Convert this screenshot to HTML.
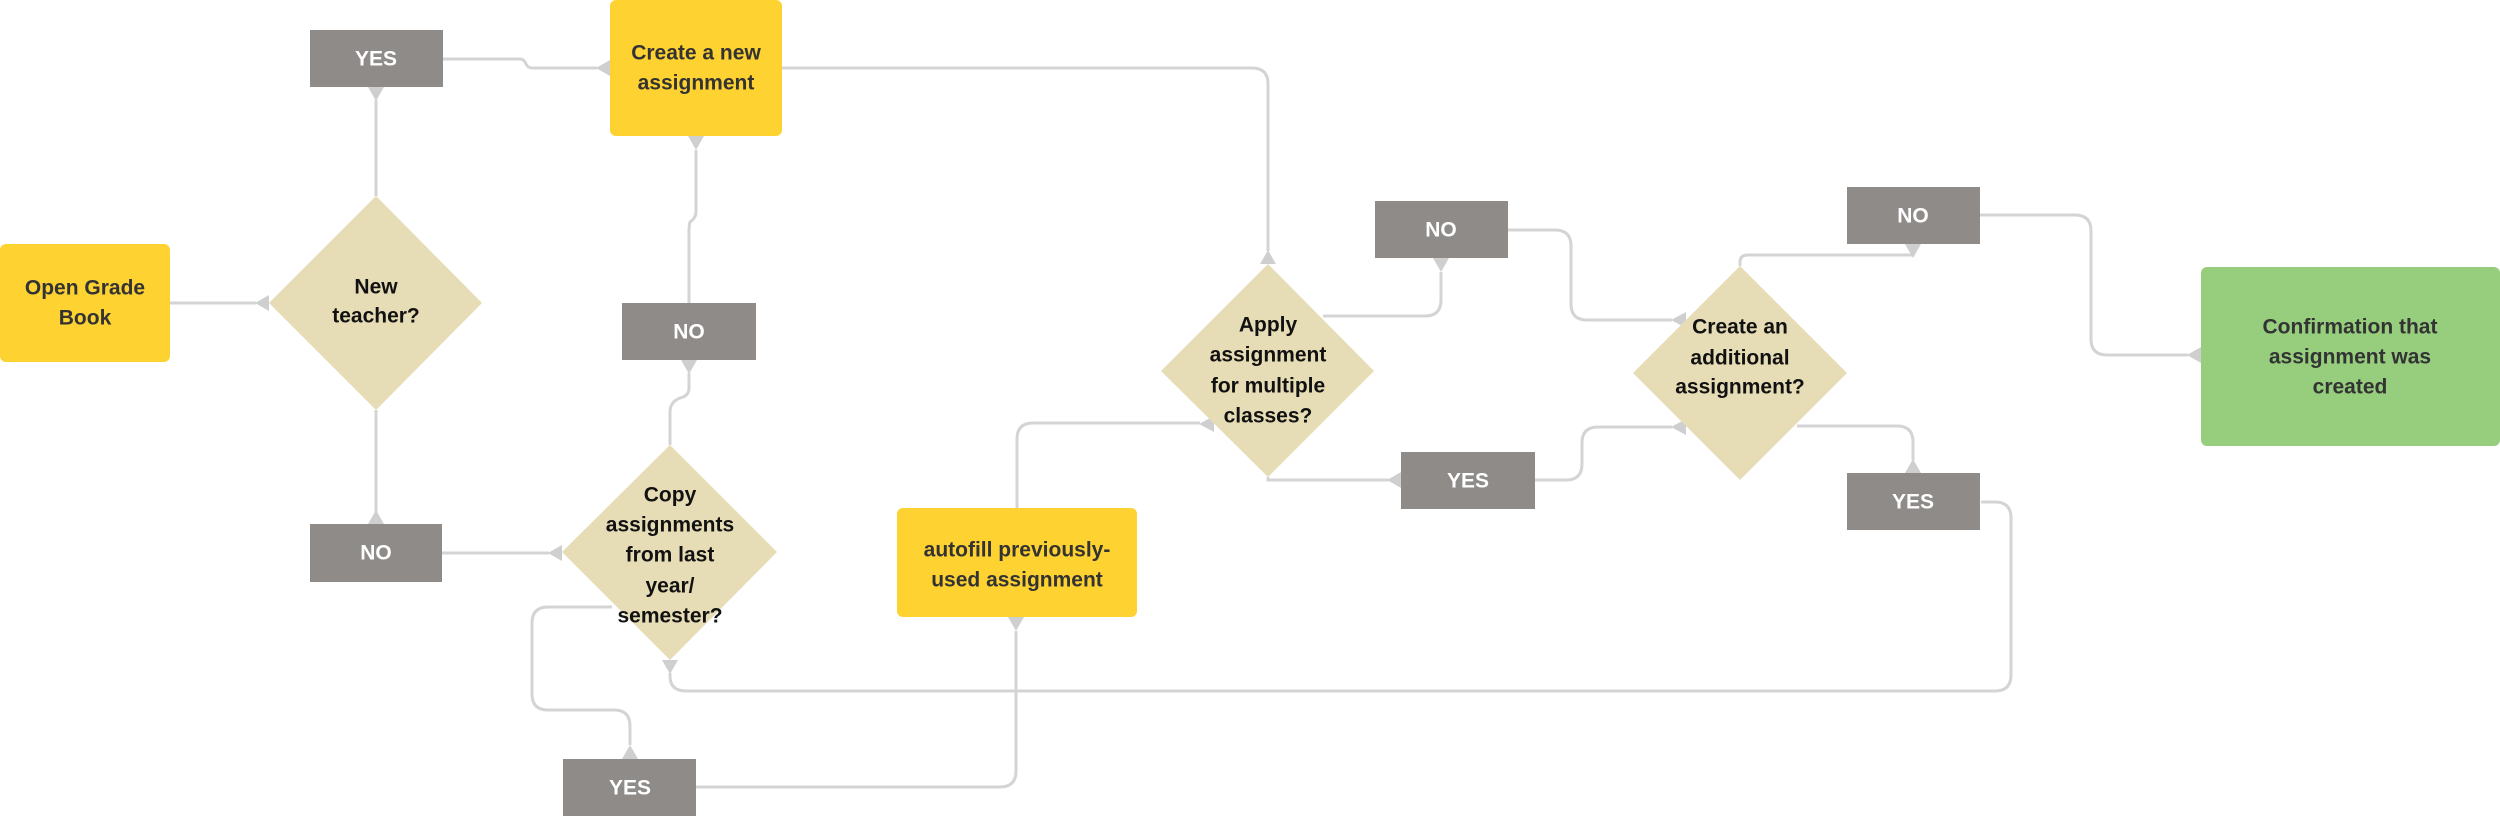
<!DOCTYPE html>
<html><head><meta charset="utf-8"><style>
html,body{margin:0;padding:0;background:#fff;}
svg{display:block;}
text{font-family:"Liberation Sans",sans-serif;font-weight:bold;font-size:21px;text-anchor:middle;dominant-baseline:central;}
.d{fill:#111;}
.y{fill:#333;}
.w{fill:#fff;}
.l{fill:none;stroke:#d4d4d4;stroke-width:3;}
.a{fill:#cfcfcf;}
</style></head><body>
<svg width="2500" height="816" viewBox="0 0 2500 816" xmlns="http://www.w3.org/2000/svg">
<!-- connectors -->
<path class="l" d="M170 303 H256"/>
<path class="l" d="M376 196 V100"/>
<path class="l" d="M443 59 H520 Q524 59 526 64 Q528 68 532 68 H597"/>
<path class="l" d="M696 150 V212 Q696 218 690 222 Q689 226 689 232 V303"/>
<path class="l" d="M689 373 V388 Q689 396 680 398 Q670 402 670 412 V445"/>
<path class="l" d="M376 410 V512"/>
<path class="l" d="M442 553 H549"/>
<path class="l" d="M612 607 H548 Q532 607 532 623 V694 Q532 710 548 710 H614 Q630 710 630 726 V745"/>
<path class="l" d="M696 787 H1000 Q1016 787 1016 771 V631"/>
<path class="l" d="M1017 508 V439 Q1017 423 1033 423 H1200"/>
<path class="l" d="M670 673 V676 Q670 691 686 691 H1995 Q2011 691 2011 675 V518 Q2011 502 1995 502 H1981"/>
<path class="l" d="M782 68 H1252 Q1268 68 1268 84 V251"/>
<path class="l" d="M1323 316 H1425 Q1441 316 1441 300 V272"/>
<path class="l" d="M1508 230 H1555 Q1571 230 1571 246 V304 Q1571 320 1587 320 H1672"/>
<path class="l" d="M1268 477 V480 H1388"/>
<path class="l" d="M1535 480 H1566 Q1582 480 1582 464 V443 Q1582 427 1598 427 H1672"/>
<path class="l" d="M1740 266 V262 Q1740 255 1748 255 H1913 V245"/>
<path class="l" d="M1980 215 H2075 Q2091 215 2091 231 V339 Q2091 355 2107 355 H2188"/>
<path class="l" d="M1797 426 H1897 Q1913 426 1913 442 V460"/>
<!-- arrowheads (base on shape edge) -->
<polygon class="a" points="269,295 269,311 255,303"/>
<polygon class="a" points="368,87 384,87 376,101"/>
<polygon class="a" points="610,60 610,76 596,68"/>
<polygon class="a" points="688,136 704,136 696,150"/>
<polygon class="a" points="681,360 697,360 689,374"/>
<polygon class="a" points="368,524 384,524 376,510"/>
<polygon class="a" points="562,545 562,561 548,553"/>
<polygon class="a" points="622,759 638,759 630,745"/>
<polygon class="a" points="1008,617 1024,617 1016,631"/>
<polygon class="a" points="662,660 678,660 670,674"/>
<polygon class="a" points="1214,416 1214,432 1199,424"/>
<polygon class="a" points="1260,264 1276,264 1268,250"/>
<polygon class="a" points="1433,258 1449,258 1441,272"/>
<polygon class="a" points="1686,312 1686,328 1671,320"/>
<polygon class="a" points="1401,472 1401,488 1387,480"/>
<polygon class="a" points="1686,419 1686,435 1671,427"/>
<polygon class="a" points="1905,244 1921,244 1913,258"/>
<polygon class="a" points="2201,347 2201,363 2187,355"/>
<polygon class="a" points="1905,473 1921,473 1913,459"/>
<!-- shapes -->
<rect x="0" y="244" width="170" height="118" rx="6" fill="#fdd231"/>
<text class="y" x="85" y="288">Open Grade</text><text class="y" x="85" y="318">Book</text>
<rect x="610" y="0" width="172" height="136" rx="6" fill="#fdd231"/>
<text class="y" x="696" y="53">Create a new</text><text class="y" x="696" y="83">assignment</text>
<rect x="897" y="508" width="240" height="109" rx="6" fill="#fdd231"/>
<text class="y" x="1017" y="550">autofill previously-</text><text class="y" x="1017" y="580">used assignment</text>
<rect x="2201" y="267" width="299" height="179" rx="6" fill="#96ce7e"/>
<text class="y" x="2350" y="327">Confirmation that</text><text class="y" x="2350" y="357">assignment was</text><text class="y" x="2350" y="387">created</text>

<polygon points="376,196 482,303 376,410 269,303" fill="#e6dcb5"/>
<text class="d" x="376" y="287">New</text><text class="d" x="376" y="316">teacher?</text>
<polygon points="670,445 777,552 670,660 562,552" fill="#e6dcb5"/>
<text class="d" x="670" y="495">Copy</text><text class="d" x="670" y="525">assignments</text><text class="d" x="670" y="555">from last</text><text class="d" x="670" y="586">year/</text><text class="d" x="670" y="616">semester?</text>
<polygon points="1268,264 1374,371 1268,477 1161,371" fill="#e6dcb5"/>
<text class="d" x="1268" y="325">Apply</text><text class="d" x="1268" y="355">assignment</text><text class="d" x="1268" y="386">for multiple</text><text class="d" x="1268" y="416">classes?</text>
<polygon points="1740,266 1847,373 1740,480 1633,373" fill="#e6dcb5"/>
<text class="d" x="1740" y="327">Create an</text><text class="d" x="1740" y="358">additional</text><text class="d" x="1740" y="387">assignment?</text>

<rect x="310" y="30" width="133" height="57" fill="#8f8b89"/><text class="w" x="376" y="59">YES</text>
<rect x="622" y="303" width="134" height="57" fill="#8f8b89"/><text class="w" x="689" y="332">NO</text>
<rect x="310" y="524" width="132" height="58" fill="#8f8b89"/><text class="w" x="376" y="553">NO</text>
<rect x="563" y="759" width="133" height="57" fill="#8f8b89"/><text class="w" x="630" y="788">YES</text>
<rect x="1375" y="201" width="133" height="57" fill="#8f8b89"/><text class="w" x="1441" y="230">NO</text>
<rect x="1401" y="452" width="134" height="57" fill="#8f8b89"/><text class="w" x="1468" y="481">YES</text>
<rect x="1847" y="187" width="133" height="57" fill="#8f8b89"/><text class="w" x="1913" y="216">NO</text>
<rect x="1847" y="473" width="133" height="57" fill="#8f8b89"/><text class="w" x="1913" y="502">YES</text>
</svg>
</body></html>
